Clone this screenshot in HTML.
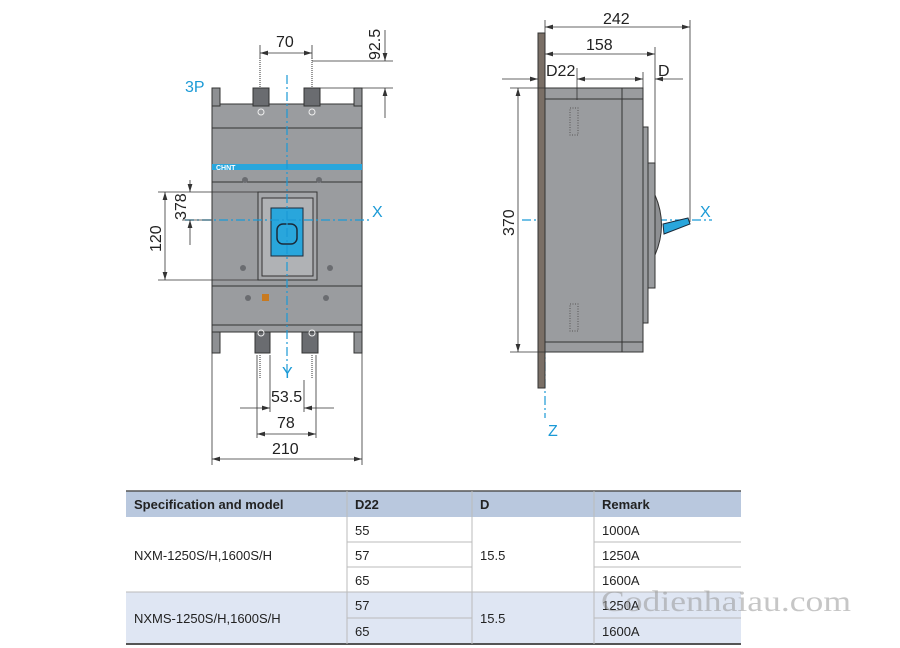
<!DOCTYPE html>
<html><head><meta charset="utf-8"><style>
body{margin:0;background:#fff;width:900px;height:648px;overflow:hidden;font-family:"Liberation Sans",sans-serif}
svg{position:absolute;left:0;top:0}
</style></head><body>
<svg width="900" height="648" viewBox="0 0 900 648" xmlns="http://www.w3.org/2000/svg">
<defs>
<marker id="a" viewBox="0 0 10 6" refX="10" refY="3" markerWidth="10" markerHeight="6" orient="auto-start-reverse"><path d="M0,0 L10,3 L0,6 z" fill="#333"/></marker>
</defs>
<g font-family="Liberation Sans, sans-serif">
<!-- FRONT VIEW -->
<g stroke="#333" stroke-width="1">
<rect x="212" y="104" width="150" height="228" fill="#9a9c9f"/>
<rect x="212" y="88" width="8" height="18" fill="#8e9093"/>
<rect x="354" y="88" width="8" height="18" fill="#8e9093"/>
<rect x="253" y="88" width="16" height="18" fill="#6a6c70"/>
<rect x="304" y="88" width="16" height="18" fill="#6a6c70"/>
<line x1="212" y1="128" x2="362" y2="128"/>
<rect x="212" y="164" width="150" height="6" fill="#29a6dc" stroke="none"/>
<line x1="212" y1="182" x2="362" y2="182"/>
<rect x="258" y="192" width="59" height="88" fill="#a4a6a9"/>
<rect x="262" y="198" width="51" height="78" fill="#b0b2b5"/>
<rect x="271" y="208" width="32" height="48" fill="#29a6dc" stroke="#1a2a3a"/>
<rect x="277" y="224" width="20" height="20" rx="6" fill="none" stroke="#1a2a3a" stroke-width="1.5"/>
<line x1="212" y1="286" x2="362" y2="286"/>
<line x1="212" y1="325" x2="362" y2="325"/>
<rect x="212" y="332" width="8" height="21" fill="#8e9093"/>
<rect x="354" y="332" width="8" height="21" fill="#8e9093"/>
<rect x="255" y="332" width="15" height="21" fill="#6a6c70"/>
<rect x="302" y="332" width="16" height="21" fill="#6a6c70"/>
</g>
<text x="216" y="170" font-size="7" fill="#fff" font-weight="bold">CHNT</text>
<g fill="#6a6c70"><circle cx="245" cy="180" r="3"/><circle cx="319" cy="180" r="3"/><circle cx="243" cy="268" r="3"/><circle cx="330" cy="268" r="3"/><circle cx="248" cy="298" r="3"/><circle cx="326" cy="298" r="3"/></g>
<rect x="262" y="294" width="7" height="7" fill="#c87a20"/>
<circle cx="261" cy="112" r="3" fill="none" stroke="#eee"/><circle cx="312" cy="112" r="3" fill="none" stroke="#eee"/>
<circle cx="261" cy="333" r="3" fill="none" stroke="#eee"/><circle cx="312" cy="333" r="3" fill="none" stroke="#eee"/>
<g stroke="#333" stroke-dasharray="1,1"><line x1="260" y1="58" x2="260" y2="88"/><line x1="312" y1="58" x2="312" y2="88"/><line x1="260" y1="355" x2="260" y2="378"/><line x1="312" y1="355" x2="312" y2="378"/></g>
<g stroke="#1b9ad6" stroke-width="1.2" stroke-dasharray="9,3,2,3" fill="none">
<line x1="287" y1="75" x2="287" y2="375"/>
<line x1="185" y1="220" x2="372" y2="220"/>
<line x1="522" y1="220" x2="712" y2="220"/>
<line x1="545" y1="90" x2="545" y2="418"/>
</g>
<g fill="#1b9ad6" font-size="16"><text x="185" y="92">3P</text><text x="372" y="217">X</text><text x="282" y="378">Y</text><text x="700" y="217">X</text><text x="548" y="436">Z</text></g>
<g stroke="#333" stroke-width="0.8" fill="none">
<line x1="260" y1="45" x2="260" y2="58"/><line x1="312" y1="45" x2="312" y2="58"/>
<line x1="260" y1="53" x2="312" y2="53" marker-start="url(#a)" marker-end="url(#a)"/>
<line x1="312" y1="61" x2="393" y2="61"/><line x1="320" y1="88" x2="393" y2="88"/>
<line x1="385" y1="30" x2="385" y2="61" marker-end="url(#a)"/><line x1="385" y1="118" x2="385" y2="88" marker-end="url(#a)"/>
<line x1="158" y1="192" x2="258" y2="192"/><line x1="158" y1="280" x2="258" y2="280"/>
<line x1="165" y1="192" x2="165" y2="280" marker-start="url(#a)" marker-end="url(#a)"/>
<line x1="182" y1="220" x2="212" y2="220"/>
<line x1="190" y1="180" x2="190" y2="192" marker-end="url(#a)"/><line x1="190" y1="245" x2="190" y2="220" marker-end="url(#a)"/>
<line x1="270" y1="355" x2="270" y2="412"/><line x1="304" y1="380" x2="304" y2="412"/>
<line x1="240" y1="408" x2="270" y2="408" marker-end="url(#a)"/><line x1="334" y1="408" x2="304" y2="408" marker-end="url(#a)"/>
<line x1="257" y1="355" x2="257" y2="438"/><line x1="316" y1="355" x2="316" y2="438"/>
<line x1="257" y1="434" x2="316" y2="434" marker-start="url(#a)" marker-end="url(#a)"/>
<line x1="212" y1="353" x2="212" y2="465"/><line x1="362" y1="353" x2="362" y2="465"/>
<line x1="212" y1="459" x2="362" y2="459" marker-start="url(#a)" marker-end="url(#a)"/>
</g>
<g fill="#222" font-size="16">
<text x="276" y="47">70</text>
<text x="271" y="402">53.5</text>
<text x="277" y="428">78</text>
<text x="272" y="454">210</text>
<text transform="translate(380,60) rotate(-90)">92.5</text>
<text transform="translate(161,252) rotate(-90)">120</text>
<text transform="translate(186,220) rotate(-90)">378</text>
</g>
<!-- SIDE VIEW -->
<g stroke="#333" stroke-width="1">
<rect x="538" y="33" width="7" height="355" fill="#7a6f66"/>
<rect x="545" y="88" width="98" height="264" fill="#9a9c9f"/>
<line x1="622" y1="88" x2="622" y2="352"/>
<line x1="545" y1="99" x2="643" y2="99"/><line x1="545" y1="342" x2="643" y2="342"/>
<rect x="643" y="127" width="5" height="196" fill="#9a9c9f"/>
<rect x="648" y="163" width="7" height="125" fill="#9a9c9f"/>
<path d="M655,195 Q668,225 655,255 z" fill="#8e9093"/>
<path d="M663,224 L688,218 L690,224 L664,234 z" fill="#29a6dc" stroke="#1a2a3a"/>
</g>
<g stroke="#555" stroke-dasharray="1,1.5" fill="none"><rect x="570" y="108" width="8" height="27"/><rect x="570" y="304" width="8" height="27"/></g>
<g stroke="#333" stroke-width="0.8" fill="none">
<line x1="545" y1="20" x2="545" y2="88"/><line x1="690" y1="20" x2="690" y2="222"/><line x1="655" y1="47" x2="655" y2="163"/><line x1="643" y1="72" x2="643" y2="88"/><line x1="577" y1="68" x2="577" y2="100"/>
<line x1="545" y1="27" x2="690" y2="27" marker-start="url(#a)" marker-end="url(#a)"/>
<line x1="545" y1="54" x2="655" y2="54" marker-start="url(#a)" marker-end="url(#a)"/>
<line x1="502" y1="79" x2="538" y2="79" marker-end="url(#a)"/>
<line x1="577" y1="79" x2="643" y2="79" marker-start="url(#a)" marker-end="url(#a)"/>
<line x1="683" y1="79" x2="655" y2="79" marker-end="url(#a)"/>
<line x1="510" y1="88" x2="545" y2="88"/><line x1="510" y1="352" x2="545" y2="352"/>
<line x1="518" y1="88" x2="518" y2="352" marker-start="url(#a)" marker-end="url(#a)"/>
</g>
<g fill="#222" font-size="16">
<text x="603" y="24">242</text>
<text x="586" y="50">158</text>
<text x="546" y="76">D22</text>
<text x="658" y="76">D</text>
<text transform="translate(514,236) rotate(-90)">370</text>
</g>
<!-- TABLE -->
<rect x="126" y="491" width="615" height="26" fill="#b9c8de"/>
<rect x="126" y="592" width="615" height="52" fill="#dfe6f3"/>
<line x1="126" y1="491" x2="741" y2="491" stroke="#555" stroke-width="1.5"/>
<line x1="126" y1="644" x2="741" y2="644" stroke="#555" stroke-width="2"/>
<g stroke="#bbb" stroke-width="1">
<line x1="347" y1="491" x2="347" y2="644"/><line x1="472" y1="491" x2="472" y2="644"/><line x1="594" y1="491" x2="594" y2="644"/>
<line x1="347" y1="542" x2="472" y2="542"/><line x1="594" y1="542" x2="741" y2="542"/>
<line x1="347" y1="567" x2="472" y2="567"/><line x1="594" y1="567" x2="741" y2="567"/>
<line x1="126" y1="592" x2="741" y2="592"/>
<line x1="347" y1="618" x2="472" y2="618"/><line x1="594" y1="618" x2="741" y2="618"/>
</g>
<g font-size="13" fill="#222">
<text x="134" y="509" font-weight="bold">Specification and model</text>
<text x="355" y="509" font-weight="bold">D22</text>
<text x="480" y="509" font-weight="bold">D</text>
<text x="602" y="509" font-weight="bold">Remark</text>
<text x="355" y="535">55</text><text x="355" y="560">57</text><text x="355" y="585">65</text><text x="355" y="610">57</text><text x="355" y="636">65</text>
<text x="480" y="560">15.5</text><text x="480" y="623">15.5</text>
<text x="602" y="535">1000A</text><text x="602" y="560">1250A</text><text x="602" y="585">1600A</text><text x="602" y="610">1250A</text><text x="602" y="636">1600A</text>
<text x="134" y="560">NXM-1250S/H,1600S/H</text>
<text x="134" y="623">NXMS-1250S/H,1600S/H</text>
</g>
<text x="601" y="611" font-family="Liberation Serif, serif" font-size="30" fill="#999" opacity="0.55" textLength="250" lengthAdjust="spacingAndGlyphs">Codienhaiau.com</text>
</g>
</svg>
</body></html>
